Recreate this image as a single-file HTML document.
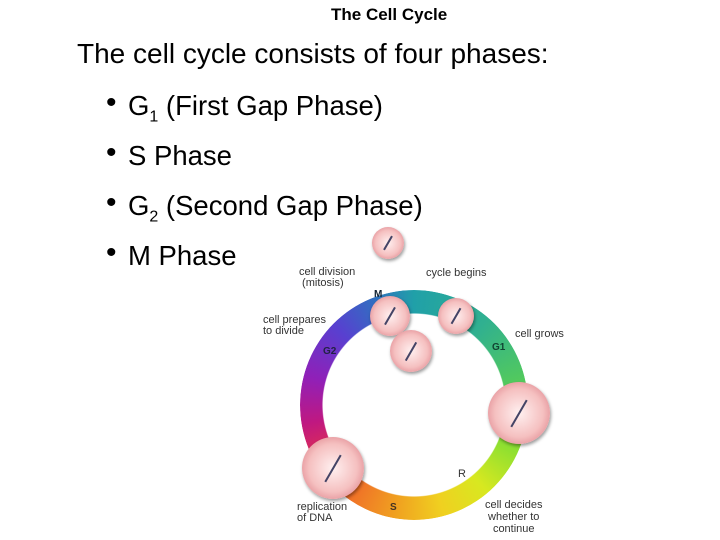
<!DOCTYPE html>
<html><head><style>
body{margin:0;width:720px;height:540px;background:#fff;position:relative;overflow:hidden;font-family:"Liberation Sans",Arial,sans-serif}
.t{position:absolute;white-space:nowrap;color:#000}
.d{position:absolute;left:106px;font-size:30px}
.ring{position:absolute;left:300px;top:290px;width:228px;height:230px;border-radius:50%;
background:conic-gradient(from 0deg,#20a0a8 0deg,#30b090 40deg,#50c860 75deg,#90e030 115deg,#d8e820 140deg,#f0d020 165deg,#f0a020 190deg,#f07028 215deg,#e03050 240deg,#c01880 260deg,#9020b8 285deg,#5840d0 315deg,#3070c0 340deg,#20a0a8 360deg);
-webkit-mask:radial-gradient(circle,transparent 91px,#000 92px);mask:radial-gradient(circle,transparent 91px,#000 92px)}
.c{position:absolute;border-radius:50%;background:radial-gradient(circle,#fff0f0 0%,#f5c0c0 55%,#e08890 85%,#c06068 100%);box-shadow:1px 2px 3px rgba(0,0,0,.4)}
.c::after{content:"";position:absolute;left:48%;top:25%;width:2px;height:50%;background:#446;transform:rotate(30deg)}
.s{position:absolute;font-size:11px;color:#333}
.b{position:absolute;font-size:10px;font-weight:bold}
</style></head><body>
<div class="t" style="left:331px;top:5px;font-size:17px;font-weight:bold">The Cell Cycle</div>
<div class="t" style="left:77px;top:38px;font-size:28px">The cell cycle consists of four phases:</div>
<div class="t d" style="top:86px">•</div><div class="t" style="left:128px;top:90px;font-size:27.5px">G<sub style="font-size:16px">1</sub> (First Gap Phase)</div>
<div class="t d" style="top:136px">•</div><div class="t" style="left:128px;top:140px;font-size:27.5px">S Phase</div>
<div class="t d" style="top:186px">•</div><div class="t" style="left:128px;top:190px;font-size:27.5px">G<sub style="font-size:16px">2</sub> (Second Gap Phase)</div>
<div class="t d" style="top:236px">•</div><div class="t" style="left:128px;top:240px;font-size:27.5px">M Phase</div>
<div class="ring"></div>
<div class="c" style="left:372px;top:227px;width:32px;height:32px"></div>
<div class="c" style="left:438px;top:298px;width:36px;height:36px"></div>
<div class="c" style="left:370px;top:296px;width:40px;height:40px"></div>
<div class="c" style="left:390px;top:330px;width:42px;height:42px"></div>
<div class="c" style="left:488px;top:382px;width:62px;height:62px"></div>
<div class="c" style="left:302px;top:437px;width:62px;height:62px"></div>
<div class="s" style="left:299px;top:267px;line-height:11px">cell division<br>&nbsp;(mitosis)</div>
<div class="s" style="left:426px;top:267px">cycle begins</div>
<div class="s" style="left:263px;top:315px;line-height:11px">cell prepares<br>to divide</div>
<div class="s" style="left:515px;top:328px">cell grows</div>
<div class="s" style="left:297px;top:502px;line-height:11px">replication<br>of DNA</div>
<div class="s" style="left:485px;top:499px;line-height:12px;text-align:center">cell decides<br>whether to<br>continue</div>
<div class="s" style="left:458px;top:468px">R</div>
<div class="b" style="left:374px;top:289px;color:#123">M</div>
<div class="b" style="left:492px;top:342px;color:#143">G1</div>
<div class="b" style="left:323px;top:346px;color:#224">G2</div>
<div class="b" style="left:390px;top:502px;color:#432">S</div>
</body></html>
